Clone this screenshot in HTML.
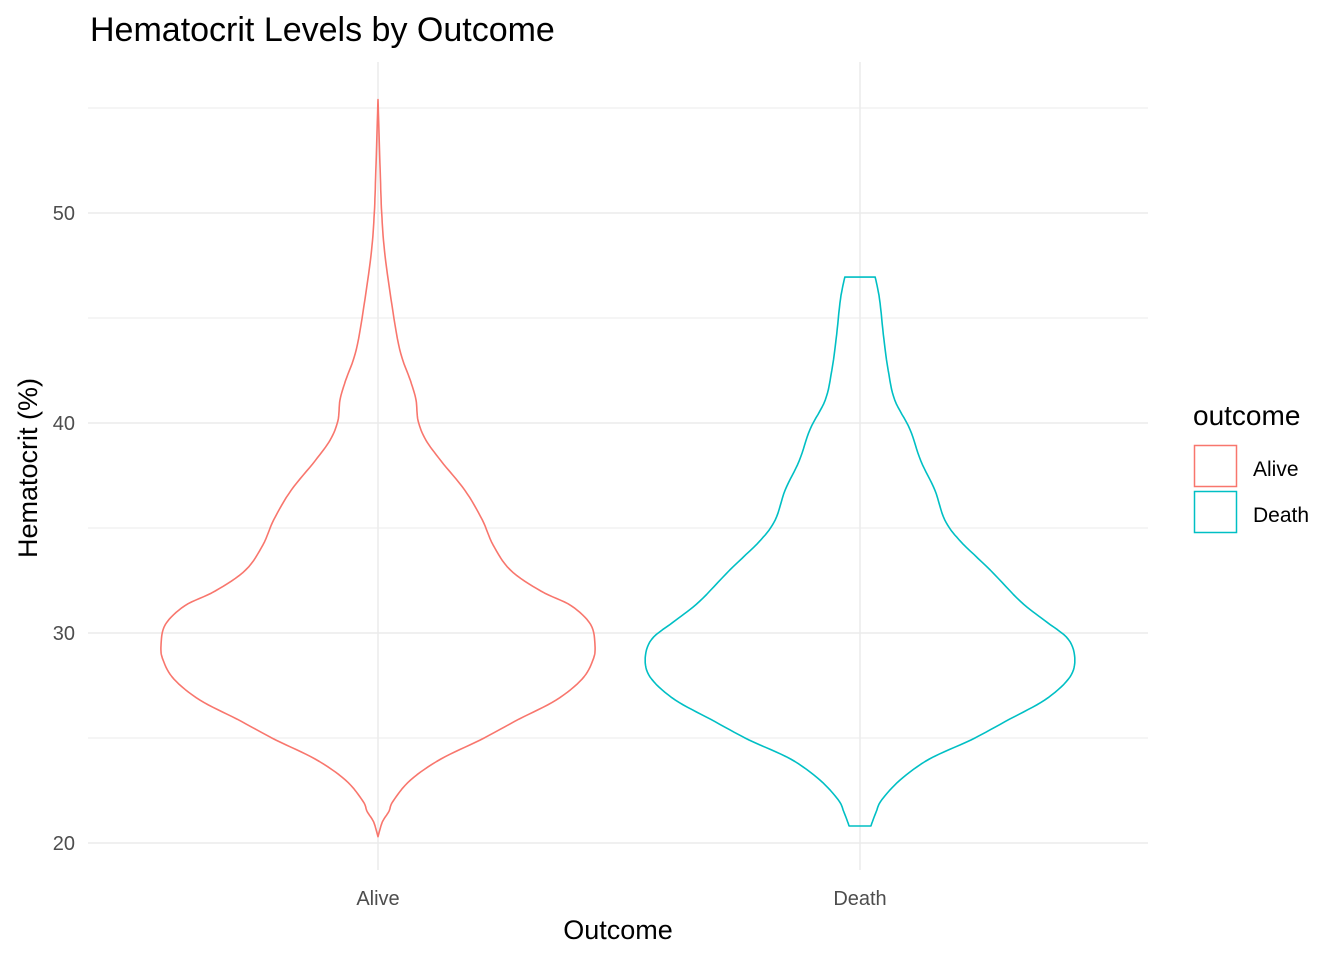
<!DOCTYPE html>
<html><head><meta charset="utf-8"><style>
body{margin:0;background:#fff;}
svg{display:block;font-family:"Liberation Sans",Arial,sans-serif;}
</style></head><body>
<svg id="chart" width="1344" height="960">
<text x="90" y="41" font-size="34" fill="#000">Hematocrit Levels by Outcome</text>
<g id="grid"></g>
<g id="violins"></g>
<g id="axes"></g>
<text x="618" y="939" font-size="27" text-anchor="middle" fill="#000">Outcome</text>
<text transform="translate(37,468) rotate(-90)" font-size="27" text-anchor="middle" fill="#000">Hematocrit (%)</text>
<g>
<text x="1193" y="425" font-size="28" fill="#000">outcome</text>
<rect x="1194.5" y="445.5" width="42" height="41" fill="none" stroke="#F8766D" stroke-width="1.5"/>
<text x="1253" y="476" font-size="21" fill="#000">Alive</text>
<rect x="1194.5" y="491.5" width="42" height="41" fill="none" stroke="#00BFC4" stroke-width="1.5"/>
<text x="1253" y="522" font-size="21" fill="#000">Death</text>
</g>
</svg>
<script>
const categories = ["Alive","Death"];
const colors = ["#F8766D","#00BFC4"];
const yTicks = [20,30,40,50];
const yMinor = [25,35,45,55];
// density profiles: hematocrit values and relative half-widths (0-1)
const aliveY = [20.3,21.0,21.5,22.0,23.0,24.0,24.9,25.9,26.8,27.8,28.7,29.4,30.4,31.3,32.0,33.0,34.2,35.4,36.8,38.2,39.2,40.1,41.1,42.0,43.5,45.9,48.2,50.0,52.0,55.4];
const aliveD = [0,0.02,0.05,0.07,0.15,0.29,0.47,0.65,0.82,0.94,0.99,1.0,0.98,0.89,0.75,0.61,0.53,0.48,0.40,0.29,0.22,0.185,0.175,0.15,0.10,0.06,0.03,0.017,0.01,0];
const deathY = [20.81,21.5,22.05,23.0,24.0,24.9,25.9,26.8,27.8,28.7,29.7,30.6,31.5,33.0,34.4,35.4,36.8,38.2,39.7,41.1,42.5,44.0,45.9,46.95];
const deathD = [0.05,0.075,0.10,0.185,0.32,0.51,0.69,0.85,0.96,0.99,0.96,0.85,0.74,0.60,0.46,0.39,0.345,0.28,0.23,0.16,0.13,0.11,0.09,0.07];
const ys=[aliveY,deathY], ds=[aliveD,deathD];

const NS="http://www.w3.org/2000/svg";
const pLeft=88,pRight=1148,pTop=62,pBottom=870;
const yScale=v=>843-(v-20)*21;
const xScale=i=>378+i*482;
const maxHalf=217;
function mk(tag,attrs,parent){const e=document.createElementNS(NS,tag);for(const k in attrs)e.setAttribute(k,attrs[k]);parent.appendChild(e);return e;}
// Catmull-Rom smoothing of a polyline
function smooth(P){let out=[P[0]];for(let i=0;i<P.length-1;i++){const p0=P[Math.max(0,i-1)],p1=P[i],p2=P[i+1],p3=P[Math.min(P.length-1,i+2)];
for(let s=1;s<=8;s++){const t=s/8,t2=t*t,t3=t2*t;const f=(a,b,c,d)=>0.5*(2*b+(-a+c)*t+(2*a-5*b+4*c-d)*t2+(-a+3*b-3*c+d)*t3);
out.push([Math.max(0,f(p0[0],p1[0],p2[0],p3[0])),f(p0[1],p1[1],p2[1],p3[1])]);}}return out;}
const grid=document.getElementById('grid'), axes=document.getElementById('axes'), vg=document.getElementById('violins');
yMinor.forEach(v=>{const l=mk('line',{x1:pLeft,x2:pRight,y1:yScale(v),y2:yScale(v),stroke:'#ebebeb','stroke-width':1},grid);

});
yTicks.forEach(v=>{const l=mk('line',{x1:pLeft,x2:pRight,y1:yScale(v),y2:yScale(v),stroke:'#ebebeb','stroke-width':1.5},grid);


const t=mk('text',{x:75,y:yScale(v)+7,'font-size':20,'text-anchor':'end',fill:'#4d4d4d'},axes);t.textContent=v;

});
categories.forEach((c,i)=>{const l=mk('line',{x1:xScale(i),x2:xScale(i),y1:pTop,y2:pBottom,stroke:'#ebebeb','stroke-width':1.5},grid);


const t=mk('text',{x:xScale(i),y:905,'font-size':20,'text-anchor':'middle',fill:'#4d4d4d'},axes);t.textContent=c;


const Y=ys[i],D=ds[i],cx=xScale(i);
const half=smooth(Y.map((y,k)=>[D[k]*maxHalf,yScale(y)]));
let pts=[];
half.forEach(q=>pts.push([cx+q[0],q[1]]));
for(let k=half.length-1;k>=0;k--)pts.push([cx-half[k][0],half[k][1]]);
const p=mk('path',{d:'M'+pts.map(q=>q[0].toFixed(1)+','+q[1].toFixed(1)).join('L')+'Z',fill:'none',stroke:colors[i],'stroke-width':1.6,'stroke-linejoin':'round'},vg);


});
</script>
</body></html>
